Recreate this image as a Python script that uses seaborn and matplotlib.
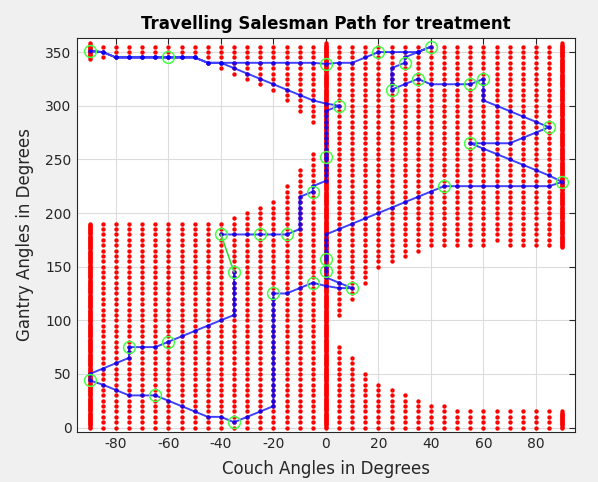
import numpy as np
import pandas as pd
import matplotlib
matplotlib.use("Agg")
import matplotlib.pyplot as plt
import seaborn as sns

# ---- feasible grid (red points) ----
# regular couch columns: (couch, lower band top, upper band bottom); gantry step 5
left_cols = [-85, -80, -75, -70, -65, -60, -55, -50, -45, -40, -35, -30, -25, -20, -15, -10, -5]
left_low_top = [190, 190, 190, 190, 190, 190, 190, 190, 190, 190, 195, 200, 205, 210, 225, 240, 255]
left_up_bot = [345, 345, 345, 345, 345, 345, 345, 345, 340, 335, 330, 325, 320, 315, 305, 295, 285]

right_cols = [5, 10, 15, 20, 25, 30, 35, 40, 45, 50, 55, 60, 65, 70, 75, 80, 85]
right_low_top = [75, 65, 50, 40, 35, 30, 25, 20, 20, 15, 15, 15, 15, 15, 15, 15, 15]
right_up_bot = [105, 120, 135, 150, 155, 160, 165, 170, 170, 170, 170, 170, 175, 170, 170, 170, 170]
grid_top = 355

# dense columns (gantry step 1): couch, list of (start, end) bands
dense_cols = [-90, 0, 90]
dense_bands = [[(0, 190), (344, 358)], [(0, 358)], [(0, 15), (168, 358)]]

# ---- tour (blue path), in visiting order ----
path_couch = [-40, -35, -30, -25, -20, -15, -10, -10, -10, -10, -10, -10, -10, -5, -5,
              0, 0, 0, 0, 0, 0, 0, 0, 0, 0, 0, 0, 0, 0, 0, 5,
              0, -5, -10, -15, -20, -25, -30, -35, -40, -45, -50, -55, -60, -65, -70, -75, -80, -85, -90,
              -85, -80, -75, -70, -65, -60, -55, -50, -45, -40, -35, -30, -25, -20, -15, -10, -5, 0,
              5, 10, 15, 20, 25, 30, 35, 40, 35, 30, 30,
              25, 25, 25, 25, 25, 30, 35, 40, 45, 50, 55, 60,
              60, 60, 60, 60, 65, 70, 75, 80, 85,
              80, 75, 70, 65, 60, 55,
              60, 65, 70, 75, 80, 85, 90,
              85, 80, 75, 70, 65, 60, 55, 50, 45,
              40, 35, 30, 25, 20, 15, 10, 5, 0,
              0, 0, 0, 0, 0, 0, 0, 0, 5, 10,
              5, 0, -5, -10, -15, -20,
              -20, -20, -20, -20, -20, -20, -20, -20, -20, -20, -20, -20, -20, -20, -20, -20, -20, -20, -20, -20, -20,
              -25, -30, -35, -40, -45, -50, -55, -60, -65, -70, -75, -80, -85, -90,
              -90, -85, -80, -75, -75, -75, -70, -65, -60,
              -55, -50, -45, -40, -35, -35, -35, -35, -35, -35, -35, -35, -35]
path_gantry = [180, 180, 180, 180, 180, 180, 185, 190, 195, 200, 205, 210, 215, 220, 225,
               230, 235, 240, 245, 250, 252, 255, 260, 265, 270, 275, 280, 285, 290, 295, 300,
               302, 305, 310, 315, 320, 325, 330, 335, 340, 340, 345, 345, 345, 345, 345, 345, 345, 350, 351,
               350, 345, 345, 345, 345, 345, 345, 345, 340, 340, 340, 340, 340, 340, 340, 340, 340, 339,
               340, 340, 345, 350, 350, 350, 350, 355, 350, 345, 340,
               335, 330, 325, 320, 315, 320, 325, 320, 320, 320, 320, 325,
               320, 315, 310, 305, 300, 295, 290, 285, 280,
               275, 270, 265, 265, 265, 265,
               260, 255, 250, 245, 240, 235, 229,
               225, 225, 225, 225, 225, 225, 225, 225, 225,
               220, 215, 210, 205, 200, 195, 190, 185, 180,
               175, 170, 165, 160, 157, 150, 146, 140, 135, 130,
               130, 132, 135, 130, 125, 125,
               120, 115, 110, 105, 100, 95, 90, 85, 80, 75, 70, 65, 60, 55, 50, 45, 40, 35, 30, 25, 20,
               15, 10, 5, 10, 10, 15, 20, 25, 30, 30, 30, 35, 40, 44,
               50, 55, 60, 65, 70, 75, 75, 75, 80,
               85, 90, 95, 100, 105, 110, 115, 120, 125, 130, 135, 140, 145]

# direct link closing the tour (green)
link_couch = [-35, -40]
link_gantry = [145, 180]

# target beams (green circles)
node_couch = [-90, -60, 0, 20, 40, 30, 25, 35, 55, 60, 85, 55, 90, 45, 0, 0, 10, -5,
              -20, -35, -65, -90, -75, -60, -35, -40, -25, -15, -5, 0, 5]
node_gantry = [351, 345, 339, 350, 355, 340, 315, 325, 320, 325, 280, 265, 229, 225, 157, 146, 130, 135,
               125, 5, 30, 44, 75, 80, 145, 180, 180, 180, 220, 252, 300]

# ---- build the red point table ----
rows = []
for c, lo, up in zip(left_cols + right_cols, left_low_top + right_low_top, left_up_bot + right_up_bot):
    for g in np.arange(0, lo + 1, 5):
        rows.append((c, g))
    for g in np.arange(up, grid_top + 1, 5):
        rows.append((c, g))
for c, bands in zip(dense_cols, dense_bands):
    for a, b in bands:
        for g in np.arange(a, b + 1, 1):
            rows.append((c, g))
feasible = pd.DataFrame(rows, columns=["Couch", "Gantry"])

path_df = pd.DataFrame({"Couch": path_couch, "Gantry": path_gantry})

# ---- plot ----
sns.set_style("white")
plt.rcParams["font.family"] = ["DejaVu Sans"]
plt.rcParams["axes.unicode_minus"] = False
fig = plt.figure(figsize=(5.98, 4.82), dpi=100, facecolor="#f0f0f0")
ax = fig.add_axes([0.128, 0.104, 0.834, 0.818])
ax.set_facecolor("white")

sns.scatterplot(data=feasible, x="Couch", y="Gantry", color="#ff0000", s=10, linewidth=0,
                ax=ax, zorder=2, legend=False)
sns.lineplot(data=path_df, x="Couch", y="Gantry", sort=False, estimator=None, color="#0000ff",
             alpha=0.75, linewidth=1.4, marker="o", markersize=3.2, markeredgewidth=0, ax=ax, zorder=3)
ax.plot(link_couch, link_gantry, color="#33dd33", linewidth=1.2, zorder=4)
ax.plot(node_couch, node_gantry, linestyle="none", marker="o", markersize=8.5, markerfacecolor="none",
        markeredgecolor="#44ff44", markeredgewidth=1.1, zorder=5)

ax.set_xlim(-95, 95)
ax.set_ylim(-4, 363.5)
ax.set_xticks(np.arange(-80, 81, 20))
ax.set_yticks(np.arange(0, 351, 50))
ax.grid(True, color="#dcdcdc", linewidth=0.8)
ax.set_axisbelow(True)
ax.tick_params(direction="in", length=4, top=True, right=True, labelsize=10,
               colors="#262626", width=0.8)
for sp in ax.spines.values():
    sp.set_color("#262626")
    sp.set_linewidth(0.8)

ax.set_title("Travelling Salesman Path for treatment", fontsize=12, fontweight="bold",
             color="#000000", pad=6)
ax.set_xlabel("Couch Angles in Degrees", fontsize=12, color="#262626", labelpad=7)
ax.set_ylabel("Gantry Angles in Degrees", fontsize=12, color="#262626", labelpad=8)

fig.savefig("out.png", dpi=100, facecolor=fig.get_facecolor())
